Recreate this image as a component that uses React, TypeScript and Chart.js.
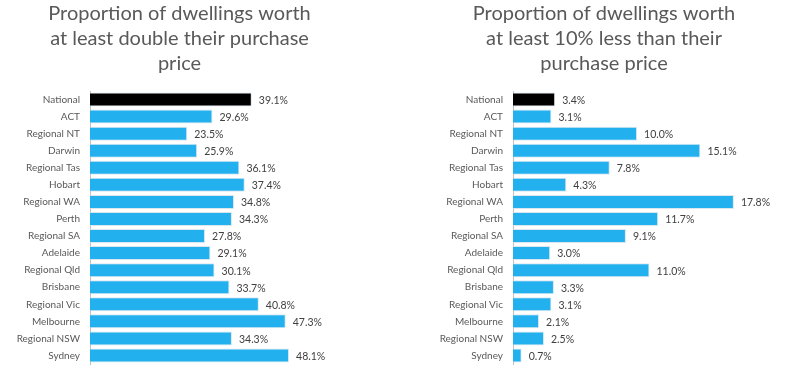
import React, { useEffect, useRef } from "react";
import { Chart, registerables } from "chart.js";

Chart.register(...registerables);

const categories = [
  "National", "ACT", "Regional NT", "Darwin", "Regional Tas", "Hobart",
  "Regional WA", "Perth", "Regional SA", "Adelaide", "Regional Qld",
  "Brisbane", "Regional Vic", "Melbourne", "Regional NSW", "Sydney",
];
const doubleValues = [39.1, 29.6, 23.5, 25.9, 36.1, 37.4, 34.8, 34.3, 27.8, 29.1, 30.1, 33.7, 40.8, 47.3, 34.3, 48.1];
const lossValues = [3.4, 3.1, 10.0, 15.1, 7.8, 4.3, 17.8, 11.7, 9.1, 3.0, 11.0, 3.3, 3.1, 2.1, 2.5, 0.7];
const titleDouble = ["Proportion of dwellings worth", "at least double their purchase", "price"];
const titleLoss = ["Proportion of dwellings worth", "at least 10% less than their", "purchase price"];

const FONT = "Lato, 'Open Sans', sans-serif";
const BLUE = "#23B0EE";

const labelPlugin = {
  id: "valueLabels",
  afterDatasetsDraw(chart: any) {
    const ctx = chart.ctx;
    const meta = chart.getDatasetMeta(0);
    const data = chart.data.datasets[0].data as number[];
    ctx.save();
    ctx.font = `10.5px ${FONT}`;
    ctx.fillStyle = "#404040";
    ctx.textAlign = "left";
    ctx.textBaseline = "middle";
    meta.data.forEach((bar: any, i: number) => {
      ctx.fillText(data[i].toFixed(1) + "%", bar.x + 7, bar.y + 1);
    });
    ctx.restore();
  },
};

function BarPanel({ values, title, max, left, padRight }: { values: number[]; title: string[]; max: number; left: number; padRight: number }) {
  const ref = useRef<HTMLCanvasElement | null>(null);
  useEffect(() => {
    if (!ref.current) return;
    const colors = categories.map((c) => (c === "National" ? "#000000" : BLUE));
    const chart = new Chart(ref.current, {
      type: "bar",
      data: {
        labels: categories,
        datasets: [
          {
            data: values,
            backgroundColor: colors,
            borderColor: "rgba(210,225,235,0.8)",
            borderWidth: 1,
            categoryPercentage: 1,
            barPercentage: 0.82,
          },
        ],
      },
      options: {
        indexAxis: "y",
        animation: false,
        responsive: false,
        maintainAspectRatio: false,
        layout: { padding: { top: 0, bottom: 18, left: 0, right: padRight } },
        plugins: {
          legend: { display: false },
          tooltip: { enabled: false },
          title: {
            display: true,
            text: title,
            color: "#595959",
            font: { family: FONT, size: 20, weight: "normal", lineHeight: 1.25 },
            padding: { top: 1, bottom: 15 },
          },
        },
        scales: {
          x: { display: false, min: 0, max },
          y: {
            afterFit: (s: any) => { s.width = left; },
            grid: { display: false, drawTicks: false },
            border: { display: true, color: "#BFBFBF", width: 1 },
            ticks: { color: "#595959", font: { family: FONT, size: 10 }, padding: 10, autoSkip: false },
          },
        },
      },
      plugins: [labelPlugin],
    });
    return () => chart.destroy();
  }, []);
  return <canvas ref={ref} width={364} height={382} style={{ width: 364, height: 382, display: "block" }} />;
}

export default function App() {
  return (
    <div style={{ position: "absolute", left: 0, top: 0, width: 786, height: 382, background: "#fff" }}>
      <div style={{ position: "absolute", left: 0, top: 0 }}>
        <BarPanel values={doubleValues} title={titleDouble} max={65} left={90} padRight={5} />
      </div>
      <div style={{ position: "absolute", left: 422, top: 0 }}>
        <BarPanel values={lossValues} title={titleLoss} max={22} left={91} padRight={0} />
      </div>
    </div>
  );
}
